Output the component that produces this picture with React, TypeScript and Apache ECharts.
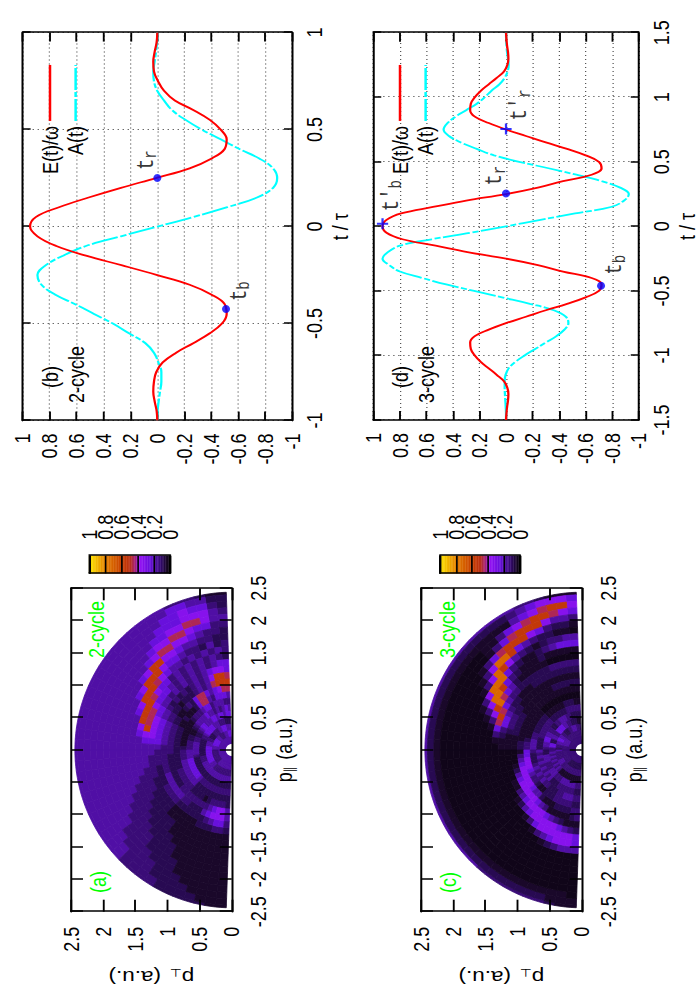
import React, { useEffect, useRef } from "react";
import * as echarts from "echarts";

const FONT = "Liberation Sans";
const MONO = "Liberation Mono";

// Field panels: t in units of the pulse
const T_B = [-1,-0.95,-0.9,-0.85,-0.8,-0.75,-0.7,-0.65,-0.6,-0.55,-0.5,-0.45,-0.4,-0.35,-0.3,-0.25,-0.2,-0.15,-0.1,-0.05,0,0.05,0.1,0.15,0.2,0.25,0.3,0.35,0.4,0.45,0.5,0.55,0.6,0.65,0.7,0.75,0.8,0.85,0.9,0.95,1];
const E_B = [0,0.005,0.02,0.03,0.025,0.008,-0.04,-0.14,-0.27,-0.39,-0.48,-0.515,-0.5,-0.4,-0.24,0,0.26,0.53,0.75,0.89,0.945,0.9,0.73,0.51,0.27,0.01,-0.24,-0.4,-0.5,-0.515,-0.47,-0.39,-0.27,-0.13,-0.05,-0.005,0.025,0.03,0.02,0.005,0];
const A_B = [0,-0.002,-0.01,-0.02,-0.03,-0.03,-0.008,0.025,0.09,0.21,0.33,0.47,0.61,0.76,0.86,0.89,0.83,0.7,0.53,0.27,0,-0.27,-0.52,-0.74,-0.86,-0.89,-0.86,-0.76,-0.61,-0.47,-0.33,-0.21,-0.11,-0.05,0,0.025,0.03,0.02,0.01,0.002,0];

const T_D = [-1.5,-1.45,-1.4,-1.35,-1.3,-1.25,-1.2,-1.15,-1.1,-1.05,-1,-0.95,-0.9,-0.85,-0.8,-0.75,-0.7,-0.65,-0.6,-0.55,-0.5,-0.45,-0.4,-0.35,-0.3,-0.25,-0.2,-0.15,-0.1,-0.05,0,0.05,0.1,0.15,0.2,0.25,0.3,0.35,0.4,0.45,0.5,0.55,0.6,0.65,0.7,0.75,0.8,0.85,0.9,0.95,1,1.05,1.1,1.15,1.2,1.25,1.3,1.35,1.4,1.45,1.5];
const E_D = [0,-0.003,-0.008,-0.015,-0.018,-0.01,0.015,0.07,0.13,0.19,0.235,0.265,0.27,0.235,0.13,0,-0.15,-0.3,-0.46,-0.6,-0.7,-0.72,-0.645,-0.43,-0.24,0,0.29,0.53,0.78,0.9,0.93,0.9,0.79,0.55,0.3,0,-0.24,-0.43,-0.645,-0.72,-0.7,-0.6,-0.46,-0.3,-0.15,0,0.13,0.235,0.27,0.265,0.235,0.19,0.13,0.07,0.015,-0.01,-0.018,-0.015,-0.008,-0.003,0];
const A_D = [0,0,0.002,0.005,0.008,0.01,0.01,0.003,-0.02,-0.07,-0.14,-0.22,-0.3,-0.38,-0.44,-0.47,-0.45,-0.36,-0.18,0.03,0.24,0.45,0.63,0.8,0.88,0.93,0.89,0.8,0.56,0.27,0,-0.26,-0.52,-0.79,-0.89,-0.925,-0.86,-0.72,-0.53,-0.32,-0.1,0.09,0.22,0.34,0.43,0.47,0.44,0.38,0.3,0.22,0.16,0.11,0.05,0.01,-0.012,-0.02,-0.015,-0.008,-0.004,-0.001,0];

// Labelled instants on the field curves: [t, E, label]
const POINTS_B = [[-0.425, -0.51, "b"], [0.25, 0, "r"]];
const CIRCLES_D = [[-0.46, -0.716, "b"], [0.254, 0, "r"]];
const PLUSES_D = [[0.02, 0.93, "b"], [0.754, 0, "r"]];

// Momentum maps: brightness level per polar cell, outer radius first, read by eye
const RADII = [2.4,2.3,2.2,2.1,2.0,1.9,1.8,1.7,1.6,1.5,1.4,1.3,1.2,1.1,1.0,0.9,0.8,0.7,0.6,0.5,0.4,0.3,0.2,0.1];
const LEVEL_VALUES = [0.025,0.05,0.09,0.13,0.18,0.25,0.34,0.46,0.55,0.72];

const MAP_A = [
  "11233344444 44444444444 44444444444 33332222211",
  "22445544444 44444444444 44444444444 33332222111",
  "23556554444 44444444444 44444444444 33322221111",
  "34666555444 44444444444 44444444443 33322211111",
  "44677665544 44444444444 44444444433 33222111111",
  "33556776654 44444444444 44444444433 32222111111",
  "23345667765 44444444444 44444444333 32221111111",
  "22334456688 65444444444 44444443333 22221111111",
  "32423345568 88654444444 44444433332 22211111111",
  "34343434456 78886544444 44444333322 22111111111",
  "23434343435 56788886544 44443333222 22111111111",
  "55434343434 55567778654 44433332222 11111111111",
  "56654343434 34455666654 43333222222 11111222332",
  "78864343232 32344555554 33322223333 22222234553",
  "88874343222 12233444443 33333444444 33222456664",
  "77654577523 21122333333 32222222233 33333345664",
  "45553477521 11211222222 22222333333 22221233332",
  "33444355433 32111111112 33344444444 22222222222",
  "45434344544 44321122333 44455555554 33333333333",
  "55455455444 55432233444 44322222222 22222222222",
  "22233344455 55543322222 22233344444 44444444444",
  "44455544333 32223344455 55555555444 33333333333",
  "55544433334 44555555444 33333333333 44444444444",
  "44444444444 44444444444 44444444444 44444444444",
];

const MAP_C = [
  "11123344444 44444444444 44444444444 43333333211",
  "56665432222 22222222222 22222222222 22222222111",
  "68876541111 11111111111 11111111111 11111111110",
  "56788765311 00000000000 00000000000 00000000000",
  "34468887531 00000000000 00000000000 00000000000",
  "12235688875 31000000000 00000000000 00000000000",
  "01122345899 63100000000 00000000000 00000000000",
  "44332123468 96310000000 00000000000 00000000000",
  "55543211235 99963100000 00000000000 00000000000",
  "11111211123 58996310000 00000000000 00000123444",
  "00000111112 45798631000 00000000000 00013456665",
  "33333222222 33457875310 00000000000 01356666665",
  "22222222211 12234553211 00000000012 45666665432",
  "11111111111 11223332111 00000011345 66665432111",
  "22222211111 11122222111 00012456666 65431111123",
  "11111111111 11111111122 13456666654 42111222233",
  "00000000000 11111111233 55666543321 12223333322",
  "11222111111 22222233444 32223434343 32223344433",
  "33333222222 33333332222 43434343434 22233333322",
  "22223344433 22334455443 22444333444 33344444433",
  "11222334455 55334422553 34343434343 11111111111",
  "23344433222 33445544332 43333344433 33333333333",
  "33333333333 33444444333 33333333333 22222222222",
  "33333333333 33333333333 33333333333 33333333333",
];

const PALETTE: [number, number[]][] = [
  [0, [6, 2, 8]],
  [0.05, [26, 8, 42]],
  [0.1, [44, 10, 92]],
  [0.18, [80, 15, 165]],
  [0.25, [104, 16, 220]],
  [0.4, [156, 20, 248]],
  [0.42, [160, 30, 150]],
  [0.5, [187, 48, 20]],
  [0.6, [200, 64, 0]],
  [0.8, [228, 128, 0]],
  [1, [255, 232, 0]],
];

function colorOf(v: number) {
  for (let i = 1; i < PALETTE.length; i++) {
    if (v <= PALETTE[i][0]) {
      const [a, ca] = PALETTE[i - 1];
      const [b, cb] = PALETTE[i];
      const f = (v - a) / (b - a);
      const c = ca.map((x, k) => Math.round(x + (cb[k] - x) * f));
      return `rgb(${c[0]},${c[1]},${c[2]})`;
    }
  }
  return "rgb(255,232,0)";
}

function mapCells(rows: string[]) {
  const cells: number[][] = [];
  rows.forEach((row, idx) => {
    const r0 = RADII[idx];
    const r1 = idx === 0 ? 2.44 : RADII[idx - 1];
    row.replace(/ /g, "").split("").forEach((ch, i) => {
      cells.push([r0, r1, 2 + 4 * i, 6 + 4 * i, LEVEL_VALUES[Number(ch)]]);
    });
  });
  return cells;
}

function renderPolar(_: any, api: any) {
  const r0 = api.value(0), r1 = api.value(1), a0 = api.value(2), a1 = api.value(3);
  const pt = (r: number, deg: number) => {
    const t = (deg * Math.PI) / 180;
    return api.coord([r * Math.cos(t), r * Math.sin(t)]);
  };
  const mid = (a0 + a1) / 2;
  const fill = colorOf(api.value(4));
  return {
    type: "polygon",
    shape: { points: [pt(r0, a0), pt(r0, mid), pt(r0, a1), pt(r1, a1), pt(r1, mid), pt(r1, a0)] },
    style: { fill, stroke: fill, lineWidth: 0.7 },
  };
}

function renderBar(_: any, api: any) {
  const a = api.coord([0, api.value(0)]);
  const b = api.coord([1, api.value(1)]);
  const fill = colorOf((api.value(0) + api.value(1)) / 2);
  return {
    type: "rect",
    shape: { x: a[0], y: b[1], width: b[0] - a[0], height: a[1] - b[1] },
    style: { fill, stroke: fill, lineWidth: 0.4 },
  };
}

const BAR_STEPS: number[][] = [];
for (let i = 0; i < 50; i++) BAR_STEPS.push([i / 50, (i + 1) / 50]);

const frameLine = { show: true, onZero: false, lineStyle: { color: "#000", width: 1.6 } };
const labelStyle = { fontFamily: FONT, fontSize: 18, color: "#000" };
const dotted = { show: true, lineStyle: { color: "#555", width: 1, type: [1, 3] as any } };

const nameRich = {
  s: { fontFamily: "DejaVu Sans", fontSize: 11, color: "#000", padding: [7, 2, 0, 0] },
};

function axes(grid: number, xr: number[], xi: number, yr: number[], yi: number, o: any) {
  const common = { gridIndex: grid, type: "value", axisLine: frameLine, z: o.z ?? 0 };
  const xBase = { ...common, min: xr[0], max: xr[1], interval: xi, axisTick: { show: true, inside: true, length: o.xTick, lineStyle: { color: "#000", width: 1.5 } } };
  const yBase = { ...common, min: yr[0], max: yr[1], interval: yi, axisTick: { show: true, inside: true, length: o.yTick, lineStyle: { color: "#000", width: 1.5 } } };
  const x = [
    { ...xBase, position: "bottom", splitLine: o.grid ? dotted : { show: false },
      axisLabel: { ...labelStyle, margin: o.xMargin, showMinLabel: true, showMaxLabel: true, hideOverlap: false },
      name: o.xName, nameLocation: "middle", nameGap: o.xGap,
      nameTextStyle: { ...labelStyle, rich: nameRich } },
    { ...xBase, position: "top", splitLine: { show: false }, axisLabel: { show: false } },
  ];
  const y = [
    { ...yBase, position: "left", splitLine: o.grid ? dotted : { show: false },
      axisLabel: { ...labelStyle, margin: o.yMargin, showMinLabel: true, showMaxLabel: true, hideOverlap: false },
      name: o.yName, nameLocation: "middle", nameGap: o.yGap, nameRotate: 90,
      nameTextStyle: { ...labelStyle, rich: nameRich } },
    { ...yBase, position: "right", splitLine: { show: false }, axisLabel: { show: false } },
  ];
  return { x, y };
}

const markLabelRich = {
  t: { fontFamily: MONO, fontSize: 19, color: "#000" },
  s: { fontFamily: MONO, fontSize: 14, color: "#000", padding: [9, 0, 0, 0] },
};

function markers(name: string, xi: number, yi: number, pts: any[], symbol: any, size: any, prime: boolean, offsets: number[][]) {
  return {
    name,
    type: "scatter",
    xAxisIndex: xi,
    yAxisIndex: yi,
    symbol,
    symbolSize: size,
    z: 6,
    itemStyle: { color: "#0000ff" },
    data: pts.map((p, i) => ({
      value: [p[0], p[1]],
      label: {
        show: true,
        position: "right",
        distance: 2,
        offset: offsets[i],
        formatter: `{t|t${prime ? "'" : ""}}{s|${p[2]}}`,
        rich: markLabelRich,
      },
    })),
  };
}

const PLUS = "path://M4 0h2v4h4v2H6v4H4V6H0V4h4z";

function curve(name: string, xi: number, yi: number, ts: number[], vs: number[], color: string, dash: any) {
  return {
    name,
    type: "line",
    xAxisIndex: xi,
    yAxisIndex: yi,
    smooth: 0.4,
    symbol: "none",
    z: 3,
    lineStyle: { color, width: 1.8, type: dash },
    itemStyle: { color },
    data: ts.map((t, i) => [t, vs[i]]),
  };
}

function text(x: number, y: number, t: string, color: string) {
  return {
    type: "text",
    x,
    y,
    z: 20,
    style: { text: t, fill: color, fontFamily: FONT, fontSize: 18, textAlign: "left", textVerticalAlign: "middle" },
  };
}

function legendAt(left: number, top: number) {
  return {
    show: true,
    orient: "vertical",
    align: "right",
    left,
    top,
    itemWidth: 56,
    itemHeight: 14,
    itemGap: 2.5,
    selectedMode: false,
    padding: 0,
    itemStyle: { color: "transparent", borderWidth: 0, opacity: 0 },
    textStyle: { ...labelStyle, width: 50, align: "right" },
    data: ["E(t)/ω", "A(t)"],
  };
}

function buildOption() {
  const P_NAME_X = "p{s|∥} (a.u.)";
  const P_NAME_Y = "p{s|⊥} (a.u.)";
  const mapOpts = { z: 5, xTick: 9.6, yTick: 12, xMargin: 12, yMargin: 15, xName: P_NAME_X, yName: P_NAME_Y, xGap: 33, yGap: 56, grid: false };
  const a = axes(0, [-2.5, 2.5], 0.5, [0, 2.5], 0.5, mapOpts);
  const c = axes(1, [-2.5, 2.5], 0.5, [0, 2.5], 0.5, mapOpts);
  const fieldOpts = { z: 0, xTick: 6.4, yTick: 9, xMargin: 9, yMargin: 13, xName: "t / τ", yGap: 0, xGap: 30, grid: true };
  const b = axes(2, [-1, 1], 0.5, [-1, 1], 0.2, fieldOpts);
  const d = axes(3, [-1.5, 1.5], 0.5, [-1, 1], 0.2, fieldOpts);

  const barLabel = { ...labelStyle, lineHeight: 11, margin: 16, hideOverlap: false };
  const barAxes = (g: number) => ({
    x: [
      { gridIndex: g, type: "value", min: 0, max: 1, position: "bottom", z: 5, axisLine: frameLine, axisTick: { show: false }, axisLabel: { show: false }, splitLine: { show: false } },
      { gridIndex: g, type: "value", min: 0, max: 1, position: "top", z: 5, axisLine: frameLine, axisTick: { show: false }, axisLabel: { show: false }, splitLine: { show: false } },
    ],
    y: [
      { gridIndex: g, type: "value", min: 0, max: 1, interval: 0.2, position: "right", z: 5, axisLine: frameLine, axisTick: { show: false },
        axisLabel: { ...barLabel, showMinLabel: false, showMaxLabel: false },
        splitLine: { show: true, lineStyle: { color: "#000", width: 1.3 } } },
      { gridIndex: g, type: "value", min: 0, max: 1, position: "left", z: 5, axisLine: frameLine, axisTick: { show: false }, axisLabel: { show: false }, splitLine: { show: false } },
      { gridIndex: g, type: "value", min: 0, max: 1, interval: 1, position: "right", z: 5, axisLine: { show: false }, axisTick: { show: false },
        axisLabel: { ...barLabel, showMinLabel: true, showMaxLabel: true },
        splitLine: { show: false } },
    ],
  });
  const barA = barAxes(4);
  const barC = barAxes(5);

  const xAxis = [...a.x, ...c.x, ...b.x, ...d.x, ...barA.x, ...barC.x];
  const yAxis = [...a.y, ...c.y, ...b.y, ...d.y, ...barA.y, ...barC.y];

  const polar = (rows: string[], xi: number, yi: number) => ({
    type: "custom",
    coordinateSystem: "cartesian2d",
    xAxisIndex: xi,
    yAxisIndex: yi,
    z: 1,
    clip: false,
    silent: true,
    renderItem: renderPolar,
    data: mapCells(rows),
  });
  const bar = (xi: number, yi: number) => ({
    type: "custom",
    coordinateSystem: "cartesian2d",
    xAxisIndex: xi,
    yAxisIndex: yi,
    z: 1,
    silent: true,
    renderItem: renderBar,
    encode: { x: [], y: [0, 1] },
    data: BAR_STEPS,
  });

  const red = "#ff0000";
  const cyan = "#00ffff";
  const dash = [22, 2, 5, 2];

  return {
    animation: false,
    backgroundColor: "#fff",
    grid: [
      { left: 88.3, top: 56.8, width: 323.4, height: 128.6 },
      { left: 88.3, top: 336.8, width: 323.4, height: 128.6 },
      { left: 579.4, top: 18.1, width: 388, height: 215.5 },
      { left: 580, top: 298.6, width: 387.3, height: 214.8 },
      { left: 426.7, top: 71.4, width: 17.6, height: 64.8 },
      { left: 426.7, top: 352, width: 17.6, height: 64 },
    ],
    legend: [legendAt(826, 31), legendAt(826, 311)],
    xAxis,
    yAxis,
    series: [
      polar(MAP_A, 0, 0),
      polar(MAP_C, 2, 2),
      bar(8, 8),
      bar(10, 11),
      curve("A(t)", 4, 4, T_B, A_B, cyan, dash),
      curve("E(t)/ω", 4, 4, T_B, E_B, red, "solid"),
      curve("A(t)", 6, 6, T_D, A_D, cyan, dash),
      curve("E(t)/ω", 6, 6, T_D, E_D, red, "solid"),
      markers("tb", 4, 4, POINTS_B, "circle", [8, 6.4], false, [[2, 10.6], [2, -9]]),
      markers("td", 6, 6, CIRCLES_D, "circle", [8, 6.4], false, [[5, 11], [2, -9]]),
      markers("tdp", 6, 6, PLUSES_D, PLUS, [11, 9], true, [[5, 7], [1, 11]]),
    ],
    graphic: [
      text(107, 78.7, "(a)", "#00ff00"),
      text(342, 77, "2-cycle", "#00ff00"),
      text(107, 358.6, "(c)", "#00ff00"),
      text(342, 357.8, "3-cycle", "#00ff00"),
      text(612, 40, "(b)", "#000"),
      text(597, 61.4, "2-cycle", "#000"),
      text(612, 320, "(d)", "#000"),
      text(597, 341, "3-cycle", "#000"),
    ],
  };
}

export default function App() {
  const ref = useRef<HTMLDivElement>(null);
  useEffect(() => {
    const chart = echarts.init(ref.current!, undefined, { renderer: "svg" });
    chart.setOption(buildOption() as any);
    return () => chart.dispose();
  }, []);
  return (
    <div
      ref={ref}
      style={{
        position: "absolute",
        left: 0,
        top: 0,
        width: 1000,
        height: 560,
        transformOrigin: "0 0",
        transform: "translate(0px, 1000px) rotate(-90deg) scale(1, 1.25)",
      }}
    />
  );
}
